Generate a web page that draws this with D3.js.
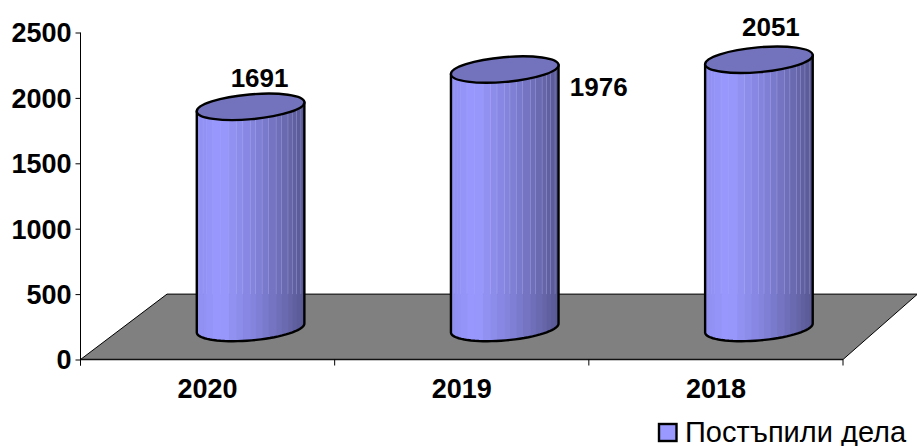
<!DOCTYPE html>
<html><head><meta charset="utf-8">
<style>html,body{margin:0;padding:0;background:#fff}svg{display:block}
text{font-family:"Liberation Sans",Arial,sans-serif;fill:#000}</style>
<script src="https://cdn.jsdelivr.net/npm/d3@7/dist/d3.min.js"></script></head>
<body><script>
const categories = ["2020","2019","2018"];
const values = [1691,1976,2051];
const yTicks = [0,500,1000,1500,2000,2500];
const seriesName = "Постъпили дела";
const stripeStops = [0,.03,.06,.09,.15,.22,.3,.37,.43,.5,.55,.61,.67,.74,.79,.85,.89,.93,.97,1];

const W=917,H=446;
const svg=d3.select("body").append("svg").attr("width",W).attr("height",H);
const x=d3.scaleBand().domain(categories).range([80.5,843]);
const y=d3.scaleLinear().domain([0,2500]).range([359.5,32.5]);
const depthX=86.5;
const barOffX=43, barOffY=31.5, rx=54, ry=12.4, tilt=-5;
const shade=d3.scaleLinear().domain([0,.22,.55,.8,1]).range(["#8f8ff0","#9999ff","#8282da","#6c6cb4","#575792"]);

// floor
const floor=[[x.range()[0],y(0)],[x.range()[1],y(0)],[x.range()[1]+depthX-12,y(500)],[x.range()[0]+depthX,y(500)]];
svg.append("path").attr("d",d3.line()(floor)+"Z").attr("fill","#808080").attr("stroke","#000").attr("stroke-width",1);
svg.append("line").attr("x1",x.range()[0]).attr("x2",x.range()[1]).attr("y1",y(0)).attr("y2",y(0)).attr("stroke","#111").attr("stroke-width",1.5);

// axes
const ay=svg.append("g").attr("transform",`translate(${x.range()[0]},0)`).call(d3.axisLeft(y).tickValues(yTicks).tickSize(5).tickPadding(4).tickFormat(d3.format("d")));
ay.selectAll("text").style("font-size","27px").style("font-weight","bold").attr("dy","0.35em");
ay.select(".domain").attr("d",`M0,${y(2500)}V${y(0)+6}`).attr("stroke","#000");
const tickX=categories.map(c=>x(c)).concat([x.range()[1]]);
svg.selectAll(".xt").data(tickX).join("line").attr("x1",d=>d).attr("x2",d=>d).attr("y1",y(0)).attr("y2",y(0)+6).attr("stroke","#000");
svg.selectAll(".xl").data(categories).join("text").attr("x",c=>x(c)+x.bandwidth()/2).attr("y",y(0)+38.5).attr("text-anchor","middle").style("font-size","27px").style("font-weight","bold").text(c=>c);

// cylinders
const backY=y(500);
const labelPos=[[9,-20],[94,26.5],[12,-23.7]];
categories.forEach((c,i)=>{
  const cx=x(c)+x.bandwidth()/2+barOffX, top=y(values[i])-barOffY, base=y(0)-barOffY;
  const g=svg.append("g");
  const a=tilt*Math.PI/180;
  const pts=d3.range(0,181,5).map(t=>{const r=t*Math.PI/180,ex=rx*Math.cos(r),ey=ry*Math.sin(r);
    return [cx+ex*Math.cos(a)-ey*Math.sin(a), base+ex*Math.sin(a)+ey*Math.cos(a)];});
  const hw=rx*Math.cos(a);
  const bodyD=`M${cx+hw},${top-4.5}L${pts.map(p=>p.join(",")).join("L")}L${cx-hw},${top+4.5}Z`;
  const id="clip"+i;
  svg.append("defs").append("clipPath").attr("id",id).append("path").attr("d",bodyD);
  const b=g.append("g").attr("clip-path",`url(#${id})`);
  const sx=d3.scaleLinear().domain([0,1]).range([cx-hw,cx+hw]);
  d3.pairs(stripeStops).forEach(([s0,s1])=>{
    b.append("rect").attr("x",sx(s0)).attr("width",sx(s1)-sx(s0)+.6).attr("y",top-20).attr("height",base-top+50).attr("fill",shade((s0+s1)/2));
    b.append("line").attr("x1",sx(s1)).attr("x2",sx(s1)).attr("y1",top-20).attr("y2",backY).attr("stroke","#b9b9f5").attr("stroke-opacity",s1>.35?.6:.3);
  });
  g.append("path").attr("d",bodyD).attr("fill","none").attr("stroke","#000").attr("stroke-width",2.4).attr("stroke-linejoin","round");
  g.append("ellipse").attr("rx",rx).attr("ry",ry).attr("transform",`translate(${cx},${top}) rotate(${tilt})`).attr("fill","#7373bd").attr("stroke","#000").attr("stroke-width",2.4);
  svg.append("text").attr("x",cx+labelPos[i][0]).attr("y",top+labelPos[i][1]).attr("text-anchor","middle").style("font-size","26px").style("font-weight","bold").text(values[i]);
});

// legend
svg.append("rect").attr("x",659).attr("y",424).attr("width",17.5).attr("height",17).attr("fill","#9999ff").attr("stroke","#000").attr("stroke-width",2.4);
svg.append("text").attr("x",685).attr("y",441.5).style("font-size","29px").text(seriesName);
</script></body></html>
